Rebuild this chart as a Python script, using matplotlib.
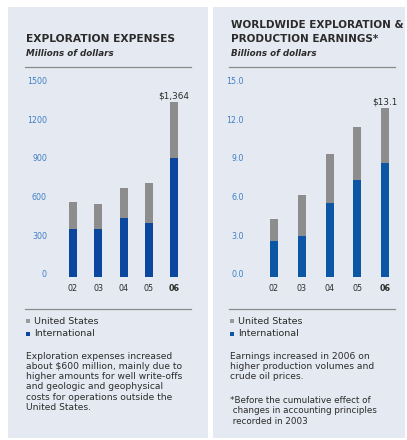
import numpy as np
import matplotlib
matplotlib.use("Agg")
import matplotlib.pyplot as plt
from matplotlib.patches import Rectangle

# данные
years = ["02", "03", "04", "05", "06"]
expl_us = [215, 197, 227, 313, 436]
expl_intl = [372, 372, 463, 421, 928]
earn_us = [1.70, 3.16, 3.86, 4.14, 4.27]
earn_intl = [2.83, 3.20, 5.74, 7.56, 8.87]
expl_ticks = [0, 300, 600, 900, 1200, 1500]
earn_ticks = [0.0, 3.0, 6.0, 9.0, 12.0, 15.0]

W, H = 407, 440
BG = "#e5e9f1"
GRAY = "#8d8d8d"
BLUE_L = "#0c479f"
BLUE_R = "#0b56a5"
TICK = "#3f7fc6"
TXT = "#2b2b2b"

plt.rcParams['font.family'] = ['DejaVu Sans']

fig = plt.figure(figsize=(W / 100, H / 100), dpi=100)
fig.patch.set_facecolor("white")

def fx(x):
    return x / W

def fy(y):
    return 1 - y / H

# фоновые панели
for x0, x1 in [(8, 208), (213, 405)]:
    fig.patches.append(Rectangle((fx(x0), fy(438)), fx(x1) - fx(x0), fy(7) - fy(438),
                                 transform=fig.transFigure, facecolor=BG, edgecolor="none", zorder=-5))

def hline(x0, x1, y):
    fig.add_artist(plt.Line2D([fx(x0), fx(x1)], [fy(y), fy(y)], color="#8a8a8a", lw=0.9))

def panel(dx, bar_c0, step, ymax, us, intl, ticks, tick_fmt, label_x, blue, total_txt):
    left = bar_c0 - step / 2
    ax = fig.add_axes([fx(left), fy(277.3), 5 * step / W, (277.3 - 84) / H])
    ax.set_facecolor("none")
    x = np.arange(len(years))
    bw = 8 / step
    ax.bar(x, intl, width=bw, color=blue)
    ax.bar(x, us, bottom=intl, width=bw, color=GRAY)
    ax.set_xlim(-0.5, 4.5)
    ax.set_ylim(0, ymax)
    for s in ax.spines.values():
        s.set_visible(False)
    ax.set_xticks(x)
    ax.set_xticklabels(years, fontsize=5.8, color=TXT)
    ax.get_xticklabels()[-1].set_fontweight("bold")
    ax.set_yticks(ticks)
    ax.set_yticklabels([tick_fmt.format(t) for t in ticks], fontsize=5.7, color=TICK, va="baseline")
    ax.tick_params(length=0)
    ax.tick_params(axis="x", pad=5)
    ax.tick_params(axis="y", pad=(left - label_x) * 0.72)
    tot = intl[-1] + us[-1]
    ax.annotate(total_txt, (x[-1], tot), xytext=(0, 0.8), textcoords="offset points",
                ha="center", va="bottom", fontsize=6.4, color=TXT)

    hline(25 + dx, 191 + dx, 67)
    hline(25 + dx, 191 + dx, 309)
    # легенда
    for yy, c, name in [(321, "#9a9a9a", "United States"), (334, blue, "International")]:
        fig.patches.append(Rectangle((fx(26 + dx), fy(yy + 2)), 4 / W, 4 / H,
                                     transform=fig.transFigure, facecolor=c, edgecolor="none"))
        fig.text(fx(34 + dx), fy(yy), name, fontsize=6.8, color=TXT, va="center")
    return ax

panel(0, 73, 25.25, 1500, expl_us, expl_intl, expl_ticks, "{:d}", 47, BLUE_L, "$1,364")
panel(204, 274, 27.75, 15, earn_us, earn_intl, earn_ticks, "{:.1f}", 244, BLUE_R, "$13.1")

# заголовки
fig.text(fx(26), fy(39), "EXPLORATION EXPENSES", fontsize=7.7, fontweight="bold", color=TXT, va="center")
fig.text(fx(26), fy(53), "Millions of dollars", fontsize=6.3, fontweight="bold", style="italic",
         color=TXT, va="center")
fig.text(fx(231), fy(25), "WORLDWIDE EXPLORATION &", fontsize=7.5, fontweight="bold", color=TXT, va="center")
fig.text(fx(231), fy(39), "PRODUCTION EARNINGS*", fontsize=7.5, fontweight="bold", color=TXT, va="center")
fig.text(fx(231), fy(53), "Billions of dollars", fontsize=6.3, fontweight="bold", style="italic",
         color=TXT, va="center")

# пояснения
left_note = ["Exploration expenses increased",
             "about $600 million, mainly due to",
             "higher amounts for well write-offs",
             "and geologic and geophysical",
             "costs for operations outside the",
             "United States."]
for i, line in enumerate(left_note):
    fig.text(fx(26), fy(356 + i * 10.3), line, fontsize=6.55, color=TXT, va="center")

right_note = ["Earnings increased in 2006 on",
              "higher production volumes and",
              "crude oil prices."]
for i, line in enumerate(right_note):
    fig.text(fx(230), fy(356 + i * 10.3), line, fontsize=6.55, color=TXT, va="center")

foot = ["*Before the cumulative effect of",
        " changes in accounting principles",
        " recorded in 2003"]
for i, line in enumerate(foot):
    fig.text(fx(230), fy(400 + i * 10.5), line, fontsize=6.3, color=TXT, va="center")

fig.savefig("out.png", dpi=100, facecolor="white")
